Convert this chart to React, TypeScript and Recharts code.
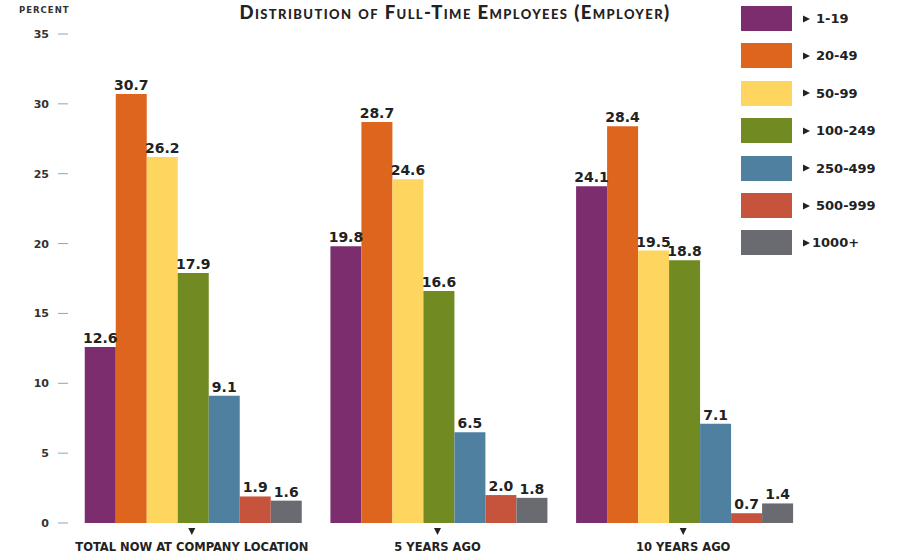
import { BarChart, Bar, XAxis, YAxis, LabelList } from 'recharts';

const categories = ['TOTAL NOW AT COMPANY LOCATION', '5 YEARS AGO', '10 YEARS AGO'];
const sizeBands = ['1-19', '20-49', '50-99', '100-249', '250-499', '500-999', '1000+'];

const band1to19 = [12.6, 19.8, 24.1];
const band20to49 = [30.7, 28.7, 28.4];
const band50to99 = [26.2, 24.6, 19.5];
const band100to249 = [17.9, 16.6, 18.8];
const band250to499 = [9.1, 6.5, 7.1];
const band500to999 = [1.9, 2.0, 0.7];
const band1000plus = [1.6, 1.8, 1.4];

const seriesValues = [band1to19, band20to49, band50to99, band100to249, band250to499, band500to999, band1000plus];
const colors = ['#7b2d6e', '#de651e', '#fdd55f', '#718b22', '#4f809f', '#c6543c', '#6a6b70'];
const yTicks = [0, 5, 10, 15, 20, 25, 30, 35];

const data = categories.map((category, i) => {
  const row: Record<string, string | number> = { category };
  seriesValues.forEach((vals, s) => {
    row[`s${s}`] = vals[i];
  });
  return row;
});

const YTick = (props: any) => {
  const { y, payload } = props;
  return (
    <g>
      <text x={49} y={y} dy={4} textAnchor="end" fontFamily="DejaVu Sans" fontWeight="bold" fontSize={11} fill="#333">
        {payload.value}
      </text>
      <line x1={58} x2={68} y1={y} y2={y} stroke="#8aa7c0" strokeWidth={1} />
    </g>
  );
};

const XTick = (props: any) => {
  const { x, y, payload } = props;
  return (
    <g>
      <polygon points={`${x - 3.5},${y - 3} ${x + 3.5},${y - 3} ${x},${y + 4}`} fill="#222" />
      <text x={x} y={y + 20} textAnchor="middle" fontFamily="Liberation Sans Narrow, DejaVu Sans Condensed" fontWeight="bold" fontSize={12.8} fill="#222">
        {payload.value}
      </text>
    </g>
  );
};

export default function App() {
  return (
    <div style={{ position: 'absolute', left: 0, top: 0, width: 901, height: 556, background: '#fff' }}>
      <BarChart
        width={901}
        height={556}
        data={data}
        margin={{ top: 34, right: 95, bottom: 0, left: 0 }}
        barCategoryGap={15.75}
        barGap={0}
      >
        <XAxis dataKey="category" axisLine={false} tickLine={false} height={33} tick={<XTick />} interval={0} />
        <YAxis domain={[0, 35]} ticks={yTicks} axisLine={false} tickLine={false} width={69} tick={<YTick />} />
        {sizeBands.map((name, s) => (
          <Bar key={name} dataKey={`s${s}`} name={name} fill={colors[s]} isAnimationActive={false}>
            <LabelList
              dataKey={`s${s}`}
              position="top"
              offset={4}
              formatter={(v: any) => Number(v).toFixed(1)}
              style={{ fontFamily: 'DejaVu Sans', fontWeight: 'bold', fontSize: 14, fill: '#222' }}
            />
          </Bar>
        ))}
      </BarChart>

      <div
        style={{
          position: 'absolute', left: 19, top: 5, fontFamily: 'DejaVu Sans', fontWeight: 'bold',
          fontSize: 8.5, letterSpacing: 1, color: '#333',
        }}
      >
        PERCENT
      </div>

      <div
        style={{
          position: 'absolute', left: 0, top: 1, width: 910, textAlign: 'center', fontFamily: 'Lato',
          fontWeight: 900, fontSize: 18.5, fontVariant: 'small-caps', letterSpacing: 1.4, color: '#222',
        }}
      >
        Distribution of Full-Time Employees (Employer)
      </div>

      {sizeBands.map((name, s) => (
        <div key={name} style={{ position: 'absolute', left: 741, top: 6 + s * 37.4, height: 25, display: 'flex', alignItems: 'center' }}>
          <div style={{ width: 51, height: 25, background: colors[s] }} />
          <svg width={8} height={8} style={{ marginLeft: 11 }}>
            <polygon points="0,0.5 7,4 0,7.5" fill="#222" />
          </svg>
          <span
            style={{
              marginLeft: name === '1000+' ? 1 : 5, fontFamily: 'DejaVu Sans', fontWeight: 'bold',
              fontSize: 13, color: '#222',
            }}
          >
            {name}
          </span>
        </div>
      ))}
    </div>
  );
}
